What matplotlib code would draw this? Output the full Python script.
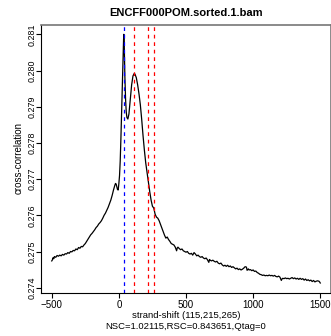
import matplotlib
matplotlib.use("Agg")
import matplotlib.pyplot as plt
import numpy as np

title = "ENCFF000POM.sorted.1.bam"
xlabel = "strand-shift (115,215,265)"
subtitle = "NSC=1.02115,RSC=0.843651,Qtag=0"
ylabel = "cross-correlation"

shift = [
    -500, -495, -490, -485, -480, -470, -460, -450, -440, -430, -420, -410, -400, -390,
    -380, -370, -360, -350, -340, -330, -320, -310, -300, -290, -280, -270, -260, -250,
    -240, -230, -220, -210, -200, -190, -180, -170, -160, -150, -140, -130, -120, -110,
    -100, -90, -80, -70, -60, -50, -40, -30, -25, -20, -15, -10, -5, 0, 5, 10, 15, 20,
    25, 30, 35, 37, 40, 45, 50, 55, 60, 67, 75, 85, 95, 105, 115, 120, 130, 140, 150,
    160, 170, 180, 190, 200, 210, 220, 230, 240, 250, 260, 270, 280, 290, 300, 310, 320,
    330, 340, 350, 360, 370, 380, 390, 400, 410, 420, 430, 435, 440, 450, 460, 470, 480,
    490, 500, 510, 520, 530, 540, 550, 560, 570, 580, 590, 600, 610, 620, 630, 640, 650,
    660, 670, 675, 680, 690, 700, 710, 720, 730, 740, 750, 760, 770, 780, 790, 800, 810,
    820, 830, 840, 850, 860, 870, 880, 890, 900, 910, 920, 930, 940, 950, 955, 965, 970,
    980, 990, 1000, 1010, 1020, 1030, 1040, 1050, 1060, 1070, 1080, 1090, 1100, 1110,
    1120, 1130, 1140, 1150, 1160, 1170, 1180, 1190, 1200, 1210, 1215, 1220, 1230, 1240,
    1250, 1260, 1270, 1280, 1290, 1300, 1310, 1320, 1330, 1340, 1350, 1360, 1370, 1380,
    1390, 1400, 1410, 1420, 1430, 1440, 1450, 1460, 1470, 1480, 1490, 1495, 1500,
]
corr = [
    0.27474, 0.27477, 0.27483, 0.27480, 0.27486, 0.27484, 0.27489, 0.27487, 0.27490, 0.27488,
    0.27492, 0.27490, 0.27494, 0.27493, 0.27497, 0.27495, 0.27500, 0.27499, 0.27503, 0.27502,
    0.27507, 0.27505, 0.27511, 0.27509, 0.27514, 0.27513, 0.27518, 0.27522, 0.27528, 0.27534,
    0.27540, 0.27546, 0.27550, 0.27555, 0.27560, 0.27566, 0.27570, 0.27576, 0.27580, 0.27585,
    0.27592, 0.27600, 0.27606, 0.27614, 0.27622, 0.27632, 0.27642, 0.27655, 0.27670, 0.27683,
    0.27688, 0.27686, 0.27678, 0.27671, 0.27670, 0.27688, 0.27710, 0.27750, 0.27810, 0.27880,
    0.27950, 0.28020, 0.28085, 0.28100, 0.28070, 0.27980, 0.27920, 0.27885, 0.27870, 0.27866,
    0.27880, 0.27920, 0.27960, 0.27985, 0.27992, 0.27990, 0.27980, 0.27960, 0.27935, 0.27905,
    0.27865, 0.27820, 0.27780, 0.27745, 0.27718, 0.27690, 0.27665, 0.27642, 0.27625, 0.27620,
    0.27603, 0.27595, 0.27592, 0.27585, 0.27575, 0.27565, 0.27555, 0.27545, 0.27537, 0.27540,
    0.27533, 0.27528, 0.27522, 0.27520, 0.27518, 0.27512, 0.27502, 0.27510, 0.27512, 0.27508,
    0.27505, 0.27507, 0.27502, 0.27500, 0.27498, 0.27500, 0.27495, 0.27493, 0.27495, 0.27490,
    0.27497, 0.27493, 0.27488, 0.27490, 0.27486, 0.27484, 0.27486, 0.27482, 0.27480, 0.27482,
    0.27477, 0.27470, 0.27478, 0.27476, 0.27474, 0.27476, 0.27473, 0.27471, 0.27473, 0.27468,
    0.27466, 0.27468, 0.27463, 0.27460, 0.27462, 0.27459, 0.27462, 0.27458, 0.27460, 0.27456,
    0.27458, 0.27455, 0.27452, 0.27454, 0.27450, 0.27452, 0.27449, 0.27451, 0.27454, 0.27458,
    0.27457, 0.27448, 0.27452, 0.27449, 0.27450, 0.27447, 0.27449, 0.27445, 0.27446, 0.27442,
    0.27440, 0.27437, 0.27436, 0.27434, 0.27435, 0.27433, 0.27434, 0.27433, 0.27435, 0.27433,
    0.27434, 0.27432, 0.27434, 0.27431, 0.27430, 0.27432, 0.27429, 0.27420, 0.27424, 0.27426,
    0.27425, 0.27427, 0.27425, 0.27426, 0.27424, 0.27426, 0.27428, 0.27425, 0.27427, 0.27424,
    0.27426, 0.27423, 0.27426, 0.27423, 0.27425, 0.27421, 0.27424, 0.27420, 0.27422, 0.27419,
    0.27421, 0.27417, 0.27420, 0.27416, 0.27418, 0.27419, 0.27418, 0.27416, 0.27413,
]

blue_lines = [36]
red_lines = [115, 215, 265]
xticks = [-500, 0, 500, 1000, 1500]
yticks = [0.274, 0.275, 0.276, 0.277, 0.278, 0.279, 0.280, 0.281]

plt.rcParams['font.family'] = ['Liberation Sans', 'DejaVu Sans']

fig = plt.figure(figsize=(3.31, 3.36), dpi=100)
ax = fig.add_axes([41/331, (336-292.7)/336, 290/331, (292.7-25)/336])

ax.plot(shift, corr, color='black', lw=0.9)
for v in blue_lines:
    ax.axvline(v, color='blue', lw=0.9, ls=(0, (3, 3)))
for v in red_lines:
    ax.axvline(v, color='red', lw=0.9, ls=(0, (3, 3)))

ax.set_xlim(-580, 1580)
ax.set_ylim(0.273862, 0.281257)
ax.set_xticks(xticks)
ax.set_xticklabels([("\u2212" + str(-t)) if t < 0 else str(t) for t in xticks], fontsize=7)
ax.set_yticks(yticks)
ax.set_yticklabels(["%.3f" % t for t in yticks], fontsize=6.4, rotation=90,
                   va='center', ha='center')
ax.tick_params(axis='x', direction='out', length=3.7, width=0.8, pad=1.5)
ax.tick_params(axis='y', direction='out', length=3.7, width=0.8, pad=3.0)

for s in ['left', 'bottom']:
    ax.spines[s].set_color('black')
    ax.spines[s].set_linewidth(0.8)
for s in ['top', 'right']:
    ax.spines[s].set_color('#777777')
    ax.spines[s].set_linewidth(1.2)

fig.text(186/331, 1 - 13.5/336, title, ha='center', va='center', fontsize=8, fontweight='bold')
fig.text(186/331, 1 - 315/336, xlabel, ha='center', va='center', fontsize=6.8)
fig.text(186/331, 1 - 326.5/336, subtitle, ha='center', va='center', fontsize=6.8)
fig.text(19/331, 1 - 158/336, ylabel, ha='center', va='center', fontsize=7, rotation=90)

fig.savefig("out.png", dpi=100)
